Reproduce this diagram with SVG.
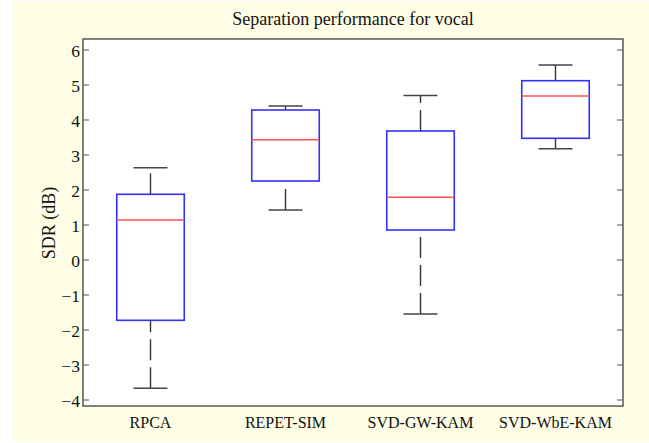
<svg xmlns="http://www.w3.org/2000/svg" width="649" height="443" viewBox="0 0 649 443">
<style>
.t{font-family:"Liberation Serif","Times New Roman",serif;fill:#111}
.ax{fill:#fff;stroke:#4a4a4a;stroke-width:1.4}
.tk{stroke:#555;stroke-width:1.2}
.box{fill:none;stroke:#3030ff;stroke-width:1.6}
.med{stroke:#ff5050;stroke-width:1.6}
.wh{stroke:#333;stroke-width:1.4;stroke-dasharray:21 7}
.cap{stroke:#444;stroke-width:1.5}
</style>
<rect x="12" y="1" width="637" height="441" fill="#fefee6"/>
<rect class="ax" x="83" y="39" width="540" height="367"/>
<g id="ticks">
<path class="tk" d="M83 50h6M83 85h6M83 120h6M83 155h6M83 190h6M83 225h6M83 260h6M83 295h6M83 330h6M83 365h6M83 400h6M623 50h-6M623 85h-6M623 120h-6M623 155h-6M623 190h-6M623 225h-6M623 260h-6M623 295h-6M623 330h-6M623 365h-6M623 400h-6"/>
</g>
<g id="yticklabels" class="t" font-size="17.5" text-anchor="end">
<text x="80" y="56.5">6</text>
<text x="80" y="91.5">5</text>
<text x="80" y="126.5">4</text>
<text x="80" y="161.5">3</text>
<text x="80" y="196.5">2</text>
<text x="80" y="231.5">1</text>
<text x="80" y="266.5">0</text>
<text x="80" y="301.5">−1</text>
<text x="80" y="336.5">−2</text>
<text x="80" y="371.5">−3</text>
<text x="80" y="406.5">−4</text>
</g>
<text class="t" font-size="18" text-anchor="middle" x="353" y="25">Separation performance for vocal</text>
<text class="t" font-size="18" text-anchor="middle" transform="translate(55 223) rotate(-90)">SDR (dB)</text>
<g id="xlabels" class="t" font-size="16" text-anchor="middle">
<text x="150.5" y="428">RPCA</text>
<text x="285.5" y="428">REPET-SIM</text>
<text x="420.5" y="428">SVD-GW-KAM</text>
<text x="555.5" y="428">SVD-WbE-KAM</text>
</g>
<g id="connectors">
<line class="wh" x1="150.5" y1="194.3" x2="150.5" y2="167.7"/>
<line class="wh" x1="150.5" y1="388.3" x2="150.5" y2="320.3"/>
<line class="wh" x1="285.5" y1="110" x2="285.5" y2="106"/>
<line class="wh" x1="285.5" y1="210" x2="285.5" y2="181"/>
<line class="wh" x1="420.5" y1="131" x2="420.5" y2="95.5"/>
<line class="wh" x1="420.5" y1="314" x2="420.5" y2="230"/>
<line class="wh" x1="555.5" y1="80.7" x2="555.5" y2="65"/>
<line class="wh" x1="555.5" y1="148.7" x2="555.5" y2="138.3"/>
</g>
<g id="rpca">
<line class="cap" x1="133.5" y1="167.7" x2="167.5" y2="167.7"/>
<line class="cap" x1="133.5" y1="388.3" x2="167.5" y2="388.3"/>
<rect class="box" x="116.75" y="194.3" width="67.5" height="126"/>
<line class="med" x1="116.75" y1="220" x2="184.25" y2="220"/>
</g>
<g id="repet-sim">
<line class="cap" x1="268.5" y1="106" x2="302.5" y2="106"/>
<line class="cap" x1="268.5" y1="210" x2="302.5" y2="210"/>
<rect class="box" x="251.75" y="110" width="67.5" height="71"/>
<line class="med" x1="251.75" y1="139.7" x2="319.25" y2="139.7"/>
</g>
<g id="svd-gw-kam">
<line class="cap" x1="403.5" y1="95.5" x2="437.5" y2="95.5"/>
<line class="cap" x1="403.5" y1="314" x2="437.5" y2="314"/>
<rect class="box" x="386.75" y="131" width="67.5" height="99"/>
<line class="med" x1="386.75" y1="197.3" x2="454.25" y2="197.3"/>
</g>
<g id="svd-wbe-kam">
<line class="cap" x1="538.5" y1="65" x2="572.5" y2="65"/>
<line class="cap" x1="538.5" y1="148.7" x2="572.5" y2="148.7"/>
<rect class="box" x="521.75" y="80.7" width="67.5" height="57.6"/>
<line class="med" x1="521.75" y1="96" x2="589.25" y2="96"/>
</g>
</svg>
